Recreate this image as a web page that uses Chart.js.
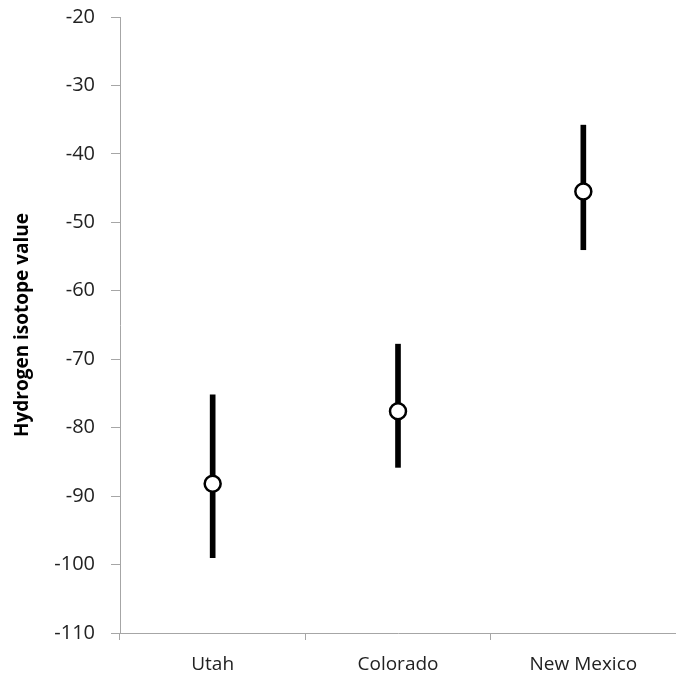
<!DOCTYPE html>
<html>
<head>
<meta charset="utf-8">
<script src="https://cdn.jsdelivr.net/npm/chart.js@4/dist/chart.umd.min.js"></script>
<style>
  html, body { margin: 0; padding: 0; background: #fff; overflow: hidden; }
  #wrap { width: 676px; height: 681px; position: relative; }
  canvas { display: block; }
</style>
</head>
<body>
<div id="wrap"><canvas id="chart"></canvas></div>
<script>
// data
const regions = ["Utah", "Colorado", "New Mexico"];
const means = [-88.2, -77.6, -45.5];
const lows = [-99.0, -85.8, -54.0];
const highs = [-75.2, -67.8, -35.8];
const yTicks = [-110, -100, -90, -80, -70, -60, -50, -40, -30, -20];

const axisColor = "#a6a6a6";
const fontFamily = "'Open Sans', 'Noto Sans', sans-serif";

const config = {
  type: "bar",
  data: {
    labels: regions,
    datasets: [
      {
        type: "line",
        data: means,
        showLine: false,
        pointRadius: 8,
        pointBorderWidth: 2.5,
        pointBackgroundColor: "#ffffff",
        pointBorderColor: "#000000",
        order: 0,
      },
      {
        data: regions.map((r, i) => [lows[i], highs[i]]),
        backgroundColor: "#000000",
        barThickness: 5,
        order: 1,
      },
    ],
  },
  options: {
    responsive: true,
    maintainAspectRatio: false,
    animation: false,
    layout: {
      autoPadding: false,
      padding: { top: 17, right: 0, bottom: 4, left: 0 },
    },
    scales: {
      x: {
        offset: true,
        afterFit: (scale) => {
          scale.height = 44;
          scale.paddingLeft = 0;
          scale.paddingRight = 0;
        },
        grid: {
          offset: true,
          drawOnChartArea: false,
          tickLength: 7,
          color: axisColor,
        },
        border: { color: axisColor, width: 1 },
        ticks: {
          color: "#222",
          font: { family: fontFamily, size: 19 },
          padding: 13,
          maxRotation: 0,
        },
      },
      y: {
        min: -110,
        max: -20,
        afterBuildTicks: (scale) => {
          scale.ticks = yTicks.map((v) => ({ value: v }));
        },
        afterFit: (scale) => {
          scale.width = 120;
          scale.paddingTop = 0;
          scale.paddingBottom = 0;
        },
        grid: {
          drawOnChartArea: false,
          tickLength: 9,
          color: axisColor,
        },
        border: { color: axisColor, width: 1 },
        ticks: {
          color: "#222",
          font: { family: fontFamily, size: 20 },
          padding: 16,
        },
        title: {
          display: true,
          text: "Hydrogen isotope value",
          color: "#000",
          font: { family: fontFamily, size: 19, weight: "bold" },
          padding: { top: 11, bottom: 0 },
        },
      },
    },
    plugins: {
      legend: { display: false },
      tooltip: { enabled: false },
    },
  },
};

new Chart(document.getElementById("chart"), config);
</script>
</body>
</html>
